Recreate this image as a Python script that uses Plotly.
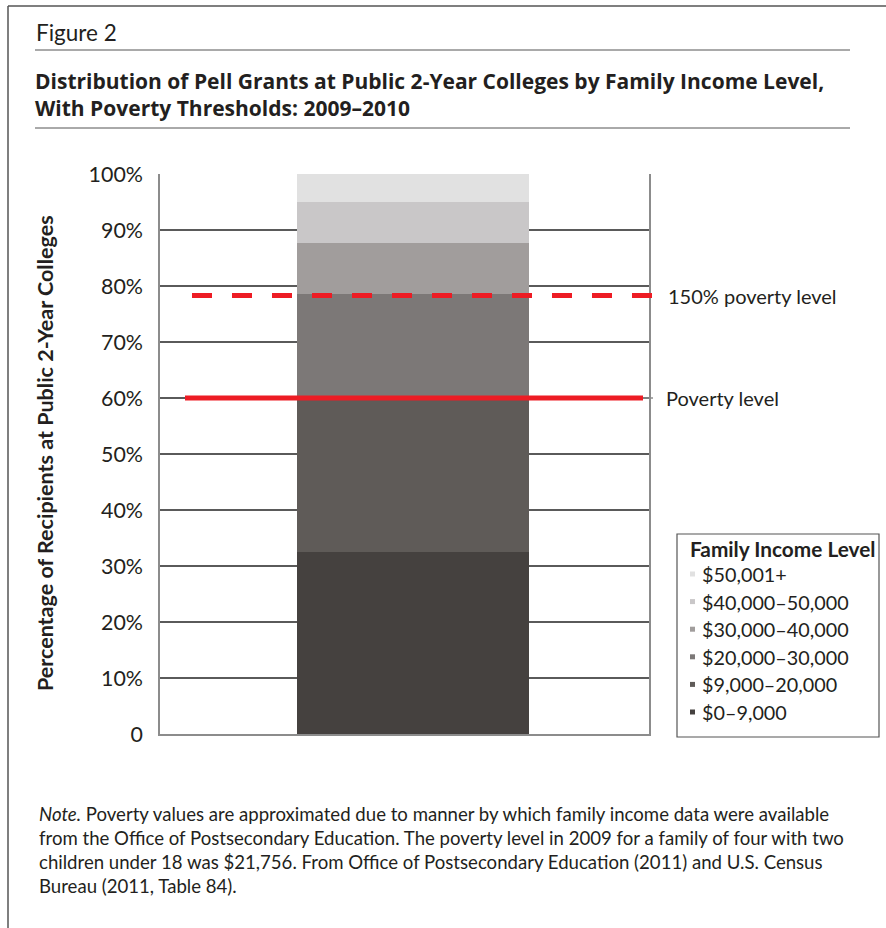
import plotly.graph_objects as go

# ---------------- data ----------------
categories = ["Public 2-Year Colleges"]
income_levels = ["$0–9,000", "$9,000–20,000", "$20,000–30,000",
                 "$30,000–40,000", "$40,000–50,000", "$50,001+"]
shares = [32.5, 27.3, 18.8, 9.1, 7.3, 5.0]
colors = ["#45413f", "#5f5b58", "#7c7877", "#a19d9c", "#c9c7c8", "#e1e1e1"]
poverty_level = 60.0
poverty_150 = 78.3
tick_vals = [0, 10, 20, 30, 40, 50, 60, 70, 80, 90, 100]
tick_text = ["0", "10%", "20%", "30%", "40%", "50%", "60%", "70%", "80%", "90%", "100%"]

FONT = "Lato"
TITLE_FONT = "Open Sans"
TXT = "#231f20"
W, H = 886, 928
PL, PR, PT, PB = 160, 649, 174, 734  # plot area in pixels


def px(x):
    return (x - PL) / (PR - PL)


def py(y):
    return (PB - y) / (PB - PT)


fig = go.Figure()
for lvl, val, col in zip(income_levels, shares, colors):
    fig.add_trace(go.Bar(x=categories, y=[val], name=lvl, marker_color=col,
                         marker_line_width=0, width=0.474, showlegend=False,
                         hoverinfo="name+y"))

shapes = []
annotations = []

# poverty lines
shapes.append(dict(type="line", xref="paper", yref="y", x0=px(185), x1=px(643),
                   y0=poverty_level, y1=poverty_level,
                   line=dict(color="#ed1c24", width=5)))
shapes.append(dict(type="line", xref="paper", yref="y", x0=px(643), x1=px(653),
                   y0=poverty_level, y1=poverty_level,
                   line=dict(color="#8c8c8c", width=1.5)))
shapes.append(dict(type="line", xref="paper", yref="y", x0=px(192), x1=px(652),
                   y0=poverty_150, y1=poverty_150,
                   line=dict(color="#ed1c24", width=5, dash="20px,20px")))
annotations.append(dict(xref="paper", yref="y", x=px(666), y=poverty_150,
                        text="150% poverty level", showarrow=False, xanchor="left",
                        yanchor="middle", font=dict(family=FONT, size=20, color=TXT)))
annotations.append(dict(xref="paper", yref="y", x=px(664), y=poverty_level,
                        text="Poverty level", showarrow=False, xanchor="left",
                        yanchor="middle", font=dict(family=FONT, size=20, color=TXT)))

# outer frame
shapes.append(dict(type="line", xref="paper", yref="paper", x0=px(8), x1=px(886),
                   y0=py(6), y1=py(6), line=dict(color="#555555", width=1.5)))
shapes.append(dict(type="line", xref="paper", yref="paper", x0=px(8), x1=px(8),
                   y0=py(6), y1=py(928), line=dict(color="#555555", width=1.5)))
# header rules
for yy in (50, 128):
    shapes.append(dict(type="line", xref="paper", yref="paper", x0=px(35), x1=px(850),
                       y0=py(yy), y1=py(yy), line=dict(color="#555555", width=1)))

annotations.append(dict(xref="paper", yref="paper", x=px(34), y=py(32), text="Figure 2",
                        showarrow=False, xanchor="left", yanchor="middle",
                        font=dict(family=FONT, size=22.5, color=TXT)))
annotations.append(dict(xref="paper", yref="paper", x=px(33), y=py(94.5),
                        text="<b>Distribution of Pell Grants at Public 2-Year Colleges by Family Income Level,</b>"
                             "<br><b>With Poverty Thresholds: 2009–2010</b>",
                        showarrow=False, xanchor="left", yanchor="middle", align="left",
                        font=dict(family=TITLE_FONT, size=21, color=TXT)))

# y axis title
annotations.append(dict(xref="paper", yref="paper", x=px(45), y=py(453),
                        text="<b>Percentage of Recipients at Public 2-Year Colleges</b>",
                        textangle=-90, showarrow=False, xanchor="center", yanchor="middle",
                        font=dict(family=FONT, size=21.5, color=TXT)))

# custom legend
shapes.append(dict(type="rect", xref="paper", yref="paper", x0=px(677), x1=px(879),
                   y0=py(534), y1=py(737), line=dict(color="#555555", width=1.2),
                   fillcolor="white"))
annotations.append(dict(xref="paper", yref="paper", x=px(688), y=py(548),
                        text="<b>Family Income Level</b>", showarrow=False,
                        xanchor="left", yanchor="middle",
                        font=dict(family=FONT, size=20.8, color=TXT)))
leg_y0, leg_dy = 574, 27.6
for i, (lvl, col) in enumerate(zip(income_levels[::-1], colors[::-1])):
    yy = leg_y0 + i * leg_dy
    shapes.append(dict(type="rect", xref="paper", yref="paper", x0=px(690), x1=px(695),
                       y0=py(yy + 2.5), y1=py(yy - 2.5), line=dict(width=0), fillcolor=col))
    annotations.append(dict(xref="paper", yref="paper", x=px(700), y=py(yy), text=lvl,
                            showarrow=False, xanchor="left", yanchor="middle",
                            font=dict(family=FONT, size=19.8, color=TXT)))

# note
note_lines = [
    "<i>Note.</i> Poverty values are approximated due to manner by which family income data were available",
    "from the Office of Postsecondary Education. The poverty level in 2009 for a family of four with two",
    "children under 18 was $21,756. From Office of Postsecondary Education (2011) and U.S. Census",
    "Bureau (2011, Table 84).",
]
for i, line in enumerate(note_lines):
    annotations.append(dict(xref="paper", yref="paper", x=px(37), y=py(814 + 24 * i),
                            text=line, showarrow=False, xanchor="left", yanchor="middle",
                            font=dict(family=FONT, size=18.6, color=TXT)))

fig.update_layout(
    width=W, height=H,
    margin=dict(l=PL, r=W - PR, t=PT, b=H - PB, pad=0),
    paper_bgcolor="white", plot_bgcolor="white",
    barmode="stack", bargap=0,
    showlegend=False,
    shapes=shapes, annotations=annotations,
    font=dict(family=FONT, color=TXT),
    xaxis=dict(range=[-0.517, 0.483], showticklabels=False, ticks="",
               showgrid=False, zeroline=False, showline=True, linecolor="#8c8c8c",
               linewidth=1.5, fixedrange=True),
    yaxis=dict(range=[0, 100], tickvals=tick_vals, ticktext=tick_text,
               tickfont=dict(family=FONT, size=21.4, color=TXT), ticks="",
               showgrid=True, gridcolor="#5a5a5a", gridwidth=1.5,
               zeroline=False, showline=True, mirror=True, linecolor="#8c8c8c",
               linewidth=1.5, ticklabelstandoff=11, fixedrange=True),
)

fig.write_html("out.html")
